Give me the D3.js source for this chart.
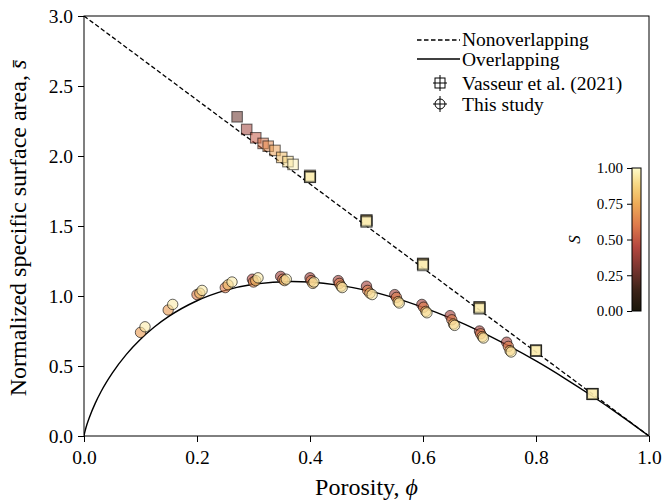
<!DOCTYPE html>
<html>
<head>
<meta charset="utf-8">
<script src="https://cdn.jsdelivr.net/npm/d3@7"></script>
<style>
  body { margin: 0; background: #fff; }
  svg { font-family: "Liberation Serif", "DejaVu Serif", serif; }
</style>
</head>
<body>
<div class="chart"></div>
<script>
// ---- data ----
// model lines
const nonOverlapPhi = [0, 1];
const nonOverlapS = [3, 0];
const overlapPhi = [0, 0.001, 0.002, 0.005, 0.01, 0.02, 0.03, 0.05, 0.075, 0.1, 0.125, 0.15, 0.2, 0.25, 0.3, 0.368, 0.4, 0.45, 0.5, 0.55, 0.6, 0.65, 0.7, 0.75, 0.8, 0.85, 0.9, 0.95, 1.0];
const overlapS = [0, 0.021, 0.037, 0.080, 0.138, 0.235, 0.316, 0.449, 0.583, 0.691, 0.780, 0.854, 0.966, 1.040, 1.084, 1.104, 1.100, 1.078, 1.040, 0.987, 0.919, 0.840, 0.749, 0.647, 0.536, 0.414, 0.284, 0.146, 0];

// Vasseur et al. (2021) squares
const vasPhi = [0.271, 0.288, 0.304, 0.317, 0.326, 0.338, 0.350, 0.361, 0.370,
  0.40, 0.40, 0.40, 0.50, 0.50, 0.50, 0.60, 0.60, 0.60, 0.70, 0.70, 0.70, 0.80, 0.80, 0.80, 0.90, 0.90, 0.90];
const vasS = [2.28, 2.19, 2.13, 2.09, 2.07, 2.04, 1.99, 1.96, 1.94,
  1.86, 1.85, 1.85, 1.54, 1.54, 1.53, 1.23, 1.23, 1.22, 0.92, 0.92, 0.91, 0.61, 0.61, 0.61, 0.30, 0.30, 0.30];
const vasColor = [0.25, 0.4, 0.5, 0.58, 0.65, 0.72, 0.8, 0.9, 0.97,
  0.8, 0.9, 1.0, 0.8, 0.9, 1.0, 0.8, 0.9, 1.0, 0.8, 0.9, 1.0, 0.8, 0.9, 1.0, 0.8, 0.9, 1.0];

// This study circles
const studyPhi = [0.100, 0.108, 0.149, 0.157,
  0.200, 0.205, 0.209, 0.250, 0.255, 0.262,
  0.298, 0.300, 0.304, 0.308, 0.348, 0.352, 0.355, 0.358,
  0.400, 0.402, 0.405, 0.407, 0.450, 0.452, 0.455, 0.457,
  0.500, 0.502, 0.506, 0.510, 0.550, 0.553, 0.556, 0.558,
  0.598, 0.601, 0.605, 0.607, 0.648, 0.651, 0.654, 0.656,
  0.700, 0.702, 0.705, 0.707, 0.748, 0.751, 0.754, 0.756];
const studyS = [0.74, 0.78, 0.90, 0.94,
  1.01, 1.02, 1.04, 1.06, 1.08, 1.10,
  1.12, 1.10, 1.11, 1.13, 1.14, 1.12, 1.11, 1.12,
  1.13, 1.11, 1.09, 1.10, 1.11, 1.09, 1.07, 1.06,
  1.07, 1.04, 1.02, 1.01, 1.01, 0.99, 0.96, 0.95,
  0.94, 0.92, 0.89, 0.88, 0.86, 0.83, 0.80, 0.79,
  0.75, 0.73, 0.71, 0.70, 0.67, 0.64, 0.61, 0.60];
const studyColor = [0.7, 0.95, 0.7, 0.95,
  0.6, 0.8, 0.95, 0.6, 0.8, 0.95,
  0.45, 0.65, 0.8, 0.95, 0.4, 0.6, 0.8, 0.95,
  0.4, 0.6, 0.8, 0.95, 0.4, 0.6, 0.8, 0.95,
  0.4, 0.6, 0.8, 0.95, 0.4, 0.6, 0.8, 0.95,
  0.4, 0.6, 0.8, 0.95, 0.4, 0.6, 0.8, 0.95,
  0.4, 0.6, 0.8, 0.95, 0.4, 0.6, 0.8, 0.95];

const xTicks = [0, 0.2, 0.4, 0.6, 0.8, 1.0];
const yTicks = [0, 0.5, 1.0, 1.5, 2.0, 2.5, 3.0];
const cbTicks = [0, 0.25, 0.5, 0.75, 1.0];

// colormap stops (dark -> pale)
const cmapStops = [0, 0.15, 0.3, 0.45, 0.6, 0.75, 0.88, 1.0];
const cmapColors = ["#1a160a", "#3e2419", "#7a3530", "#b5473f", "#de7a4b", "#eeab57", "#f6d67e", "#fffccb"];

// ---- layout ----
const W = 666, H = 504;
const margin = { top: 16, right: 17, bottom: 68, left: 84 };
const width = W - margin.left - margin.right,
  height = H - margin.top - margin.bottom;

const svg = d3.select(".chart").append("svg")
  .attr("width", W).attr("height", H);

const g = svg.append("g")
  .attr("transform", "translate(" + margin.left + "," + margin.top + ")");

const xScale = d3.scaleLinear().domain([0, 1]).range([0, width]);
const yScale = d3.scaleLinear().domain([0, 3]).range([height, 0]);
const cmap = d3.scaleLinear().domain(cmapStops).range(cmapColors).interpolate(d3.interpolateRgb);

// clip to plot area
svg.append("defs").append("clipPath").attr("id", "clip")
  .append("rect").attr("width", width).attr("height", height);

const plot = g.append("g").attr("clip-path", "url(#clip)");

const line = d3.line().x(d => xScale(d[0])).y(d => yScale(d[1]));

plot.append("path")
  .datum(nonOverlapPhi.map((p, i) => [p, nonOverlapS[i]]))
  .attr("d", line)
  .attr("fill", "none").attr("stroke", "#000")
  .attr("stroke-width", 1.3).attr("stroke-dasharray", "4.5,2.5");

plot.append("path")
  .datum(overlapPhi.map((p, i) => [p, overlapS[i]]))
  .attr("d", line.curve(d3.curveMonotoneX))
  .attr("fill", "none").attr("stroke", "#000")
  .attr("stroke-width", 1.4);

// circles (this study)
const studyData = studyPhi.map((p, i) => ({ phi: p, s: studyS[i], c: studyColor[i] }));
plot.selectAll(".study").data(studyData).enter()
  .append("circle").attr("class", "study")
  .attr("cx", d => xScale(d.phi)).attr("cy", d => yScale(d.s))
  .attr("r", 5.2)
  .attr("fill", d => cmap(d.c)).attr("fill-opacity", 0.62)
  .attr("stroke", "#000").attr("stroke-opacity", 0.6).attr("stroke-width", 1);

// squares (Vasseur)
const vasData = vasPhi.map((p, i) => ({ phi: p, s: vasS[i], c: vasColor[i] }));
const sq = 10.5;
plot.selectAll(".vas").data(vasData).enter()
  .append("rect").attr("class", "vas")
  .attr("x", d => xScale(d.phi) - sq / 2).attr("y", d => yScale(d.s) - sq / 2)
  .attr("width", sq).attr("height", sq)
  .attr("fill", d => cmap(d.c)).attr("fill-opacity", 0.55)
  .attr("stroke", "#000").attr("stroke-opacity", 0.55)
  .attr("stroke-width", (d, i) => i < 9 ? 1.1 : 1.6);

// frame
g.append("rect").attr("width", width).attr("height", height)
  .attr("fill", "none").attr("stroke", "#000").attr("stroke-width", 1);

// axes
const xAxis = g.append("g").attr("class", "x-axis")
  .attr("transform", `translate(0, ${height})`)
  .call(d3.axisBottom(xScale).tickValues(xTicks).tickFormat(d3.format(".1f")).tickSize(6).tickPadding(8));
const yAxis = g.append("g").attr("class", "y-axis")
  .call(d3.axisLeft(yScale).tickValues(yTicks).tickFormat(d3.format(".1f")).tickSize(6).tickPadding(5));

[xAxis, yAxis].forEach(ax => {
  ax.select(".domain").remove();
  ax.selectAll("line").attr("stroke", "#000");
  ax.selectAll("text").attr("fill", "#000")
    .style("font-family", "Liberation Serif, serif").style("font-size", "19.5px");
});

// axis titles
svg.append("text")
  .attr("x", margin.left + width / 2).attr("y", 495)
  .attr("text-anchor", "middle")
  .style("font-size", "24px")
  .html('Porosity, <tspan font-style="italic">ϕ</tspan>');

svg.append("text")
  .attr("transform", `translate(26, ${margin.top + height / 2 + 2}) rotate(-90)`)
  .attr("text-anchor", "middle")
  .style("font-size", "24px")
  .html('Normalized specific surface area, <tspan font-style="italic">s̄</tspan>');

// legend
const leg = svg.append("g").attr("transform", "translate(417, 0)");
const legFont = "19.5px";
leg.append("line").attr("x1", 0).attr("x2", 43).attr("y1", 40).attr("y2", 40)
  .attr("stroke", "#000").attr("stroke-width", 1.3).attr("stroke-dasharray", "4.5,2.5");
leg.append("text").attr("x", 45).attr("y", 46).style("font-size", legFont).text("Nonoverlapping");
leg.append("line").attr("x1", 0).attr("x2", 43).attr("y1", 59).attr("y2", 59)
  .attr("stroke", "#000").attr("stroke-width", 1.4);
leg.append("text").attr("x", 45).attr("y", 66).style("font-size", legFont).text("Overlapping");

// legend marker with crosshair
function legMarker(cy, shape) {
  const cx = 23;
  leg.append("line").attr("x1", cx - 7).attr("x2", cx + 7).attr("y1", cy).attr("y2", cy).attr("stroke", "#000");
  leg.append("line").attr("x1", cx).attr("x2", cx).attr("y1", cy - 8).attr("y2", cy + 8).attr("stroke", "#000");
  if (shape === "square") {
    leg.append("rect").attr("x", cx - 5).attr("y", cy - 5).attr("width", 10).attr("height", 10)
      .attr("fill", "none").attr("stroke", "#000");
  } else {
    leg.append("circle").attr("cx", cx).attr("cy", cy).attr("r", 5)
      .attr("fill", "none").attr("stroke", "#000");
  }
}
legMarker(83, "square");
leg.append("text").attr("x", 45).attr("y", 90).style("font-size", legFont).text("Vasseur et al. (2021)");
legMarker(104, "circle");
leg.append("text").attr("x", 45).attr("y", 111).style("font-size", legFont).text("This study");

// colorbar
const cbX = 632, cbW = 9, cbTop = 168, cbBot = 311;
const cbScale = d3.scaleLinear().domain([0, 1]).range([cbBot, cbTop]);
const grad = svg.select("defs").append("linearGradient").attr("id", "cbgrad")
  .attr("x1", 0).attr("y1", 1).attr("x2", 0).attr("y2", 0);
grad.selectAll("stop").data(d3.range(0, 1.0001, 0.05)).enter().append("stop")
  .attr("offset", d => d).attr("stop-color", d => cmap(d));
svg.append("rect").attr("x", cbX).attr("y", cbTop).attr("width", cbW).attr("height", cbBot - cbTop)
  .attr("fill", "url(#cbgrad)").attr("stroke", "#000").attr("stroke-width", 1);
const cbAxis = svg.append("g").attr("transform", `translate(${cbX}, 0)`)
  .call(d3.axisLeft(cbScale).tickValues(cbTicks).tickFormat(d3.format(".2f")).tickSize(5).tickPadding(4));
cbAxis.select(".domain").remove();
cbAxis.selectAll("line").attr("stroke", "#000");
cbAxis.selectAll("text").attr("fill", "#000")
  .style("font-family", "Liberation Serif, serif").style("font-size", "15px");
svg.append("text")
  .attr("transform", `translate(580, ${(cbTop + cbBot) / 2}) rotate(-90)`)
  .attr("text-anchor", "middle")
  .style("font-size", "17px").style("font-style", "italic")
  .text("S");
</script>
</body>
</html>
